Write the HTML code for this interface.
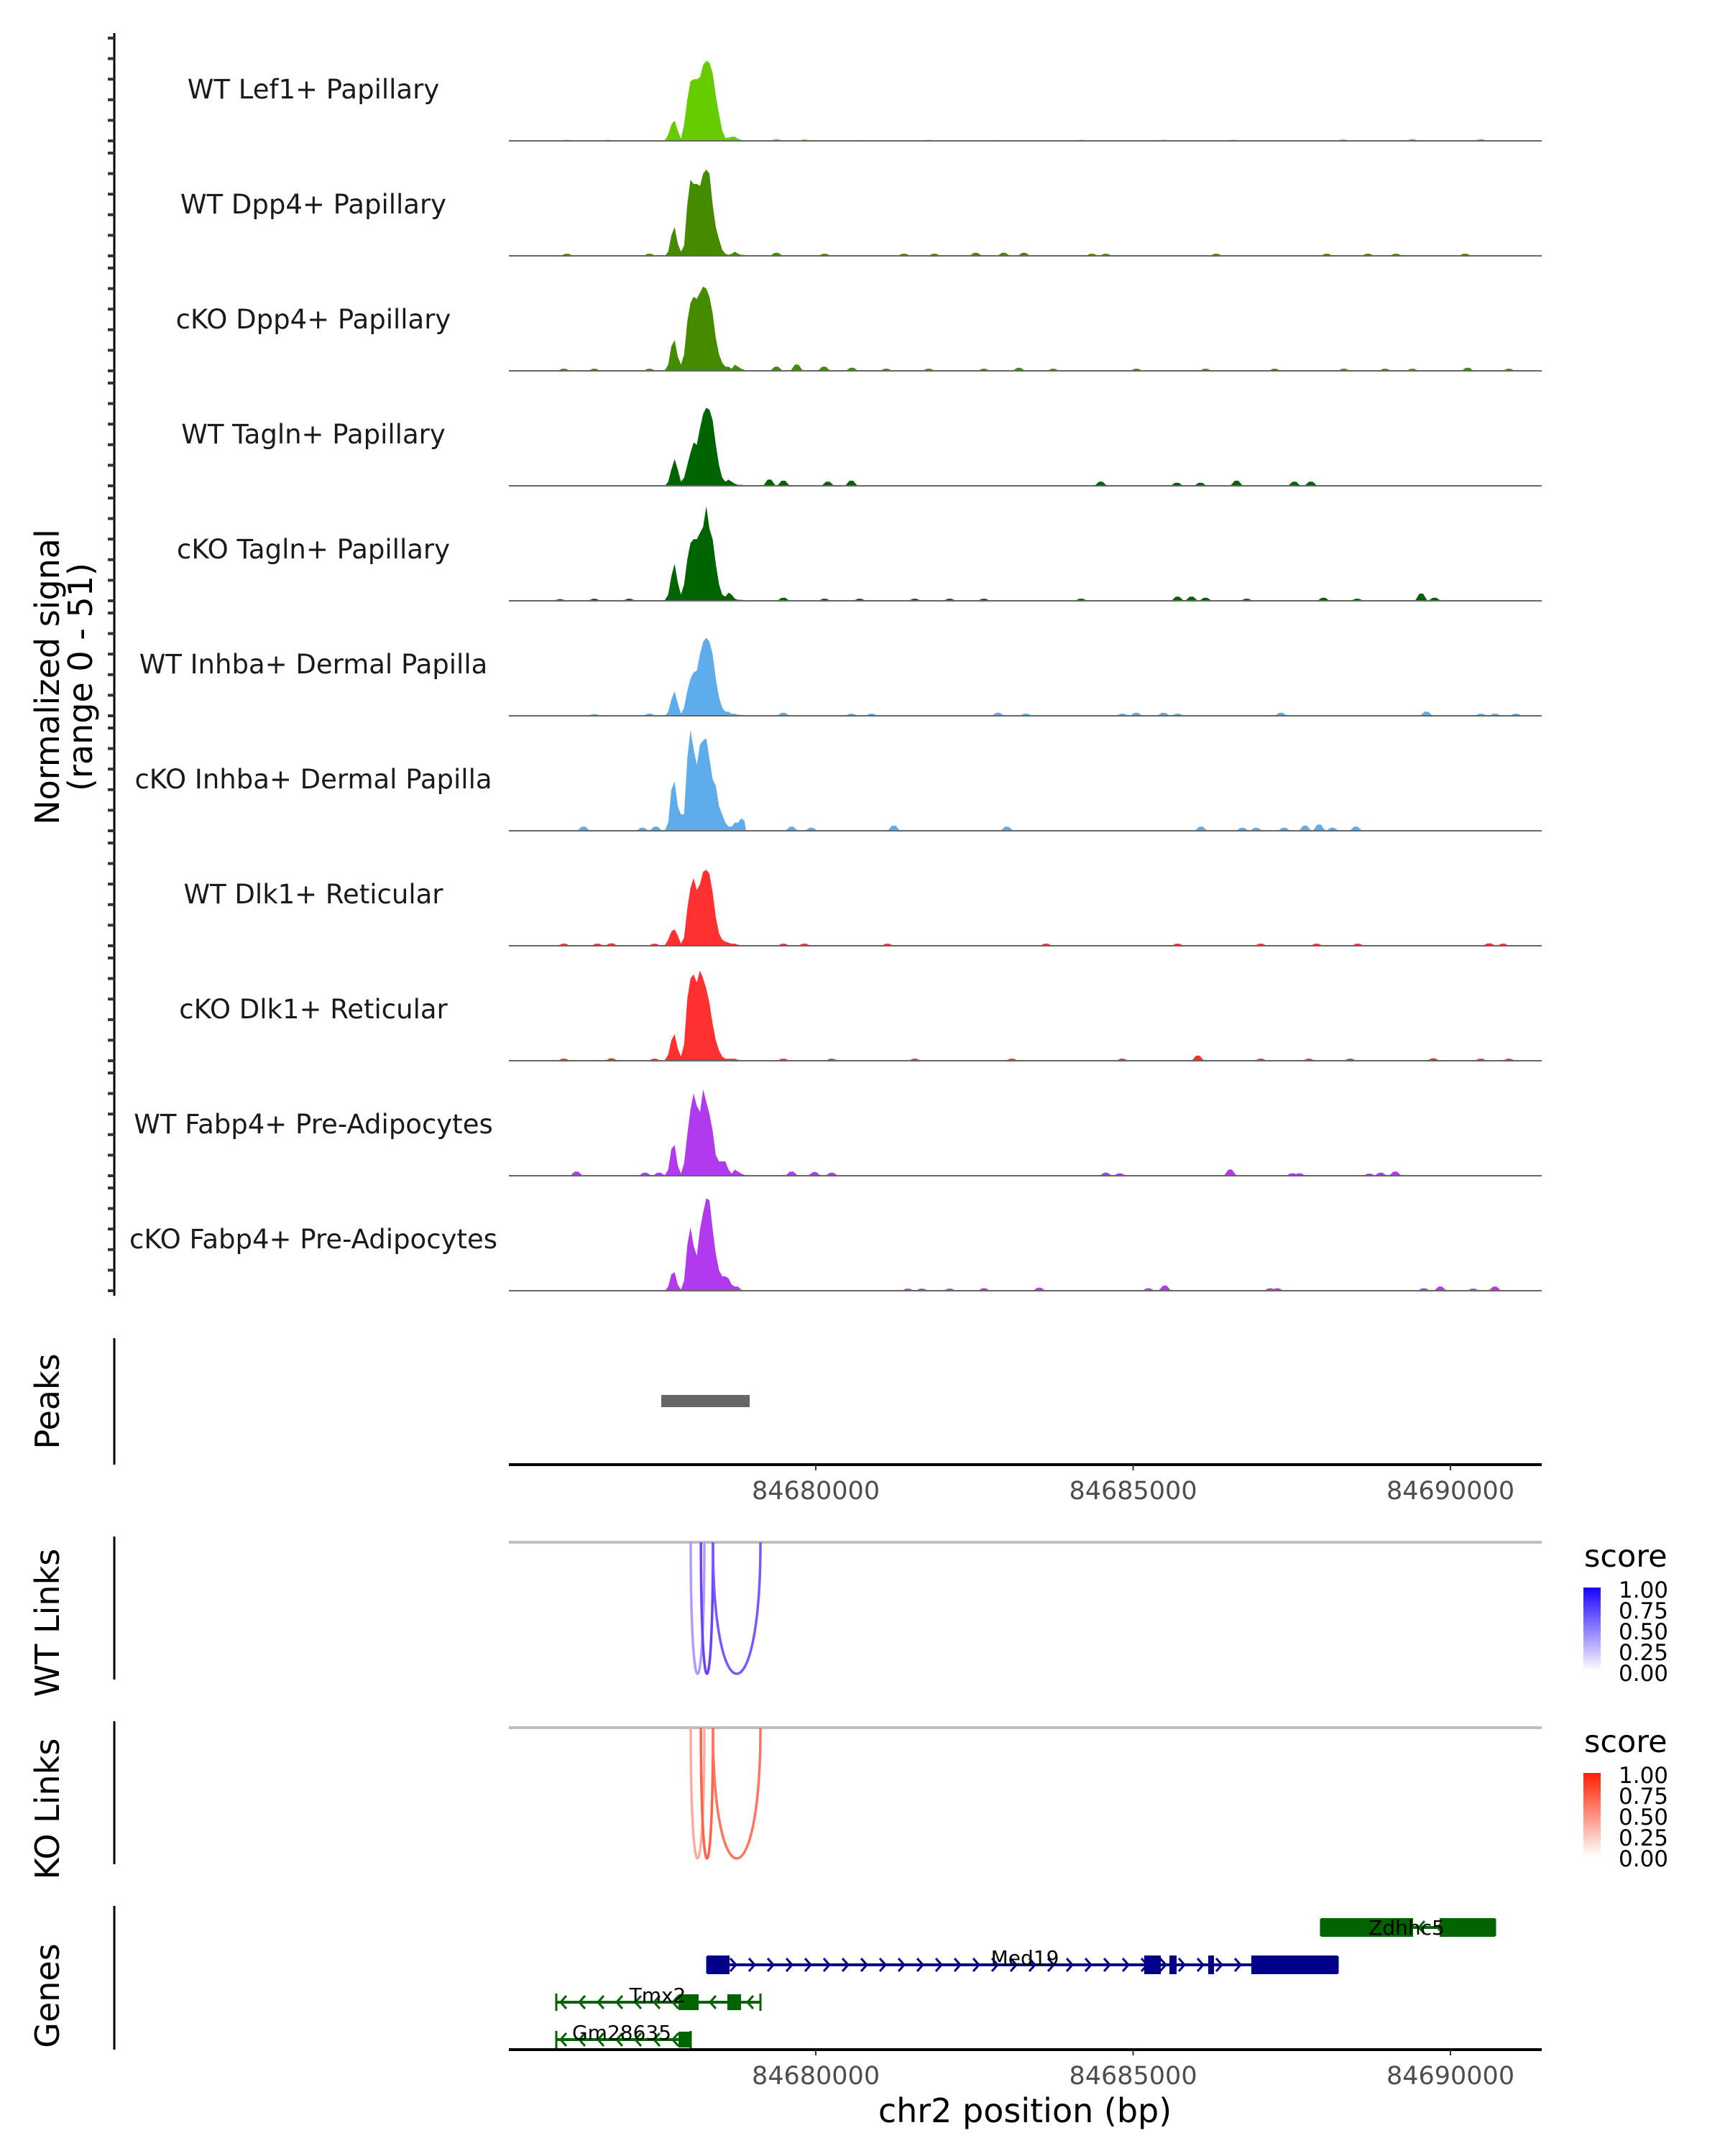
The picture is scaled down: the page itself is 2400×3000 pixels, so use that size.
<!DOCTYPE html>
<html><head><meta charset="utf-8"><style>
html,body{margin:0;padding:0;background:#fff;}
svg{display:block;font-family:"DejaVu Sans","Liberation Sans",sans-serif;}
</style></head><body>
<svg id="chart" width="2400" height="3000" viewBox="0 0 2400 3000" xmlns="http://www.w3.org/2000/svg">
<defs>
<linearGradient id="gBlue" x1="0" y1="1" x2="0" y2="0"><stop offset="0" stop-color="#ffffff"/><stop offset="1" stop-color="#1a00ff"/></linearGradient>
<linearGradient id="gRed" x1="0" y1="1" x2="0" y2="0"><stop offset="0" stop-color="#ffffff"/><stop offset="1" stop-color="#ff2000"/></linearGradient>
</defs>
<g id="tracks"></g>
<g id="lower"></g>
</svg>
<script>
// ---- data ----
const trackNames = ["WT Lef1+ Papillary","WT Dpp4+ Papillary","cKO Dpp4+ Papillary","WT Tagln+ Papillary","cKO Tagln+ Papillary","WT Inhba+ Dermal Papilla","cKO Inhba+ Dermal Papilla","WT Dlk1+ Reticular","cKO Dlk1+ Reticular","WT Fabp4+ Pre-Adipocytes","cKO Fabp4+ Pre-Adipocytes"];
const trackColors = ["#66CC00","#458B00","#458B00","#006400","#006400","#5EACEB","#5EACEB","#FF3030","#FF3030","#B23AEE","#B23AEE"];
const binStart = 84677600;
const binSize = 50;
const mainProfiles = [
[0.5,3,8,10,5,1,8,20,29,30,30,31,37,39,38,33,22,13,5,1.5,1.5,2,2,1,0.5,0.3],
[0,2,10,14,6,2,5,25,37,35,35,34,40,42,40,25,14,8,3,1,0.5,1,2,1,0.5,0.5],
[0.5,3,12,15,7,3,8,24,33,36,35,38,41,40,36,28,16,8,4,2,2,1,3,2,1,0.5],
[0,2,8,13,8,2,4,10,16,21,20,28,35,38,37,32,20,10,4,2,3,2,1,0.5,0.5,0.3],
[0.5,3,12,18,9,3,8,20,28,30,30,33,36,46,35,30,18,8,3,2,4,3,1,0.5,0.5,0.3],
[0,2,8,12,6,1,4,12,18,21,22,30,36,38,36,30,18,9,4,2,2,1,1,0.5,0.5,0.3],
[0.5,4,20,24,12,8,8,35,49,40,32,42,44,45,35,25,22,12,8,4,2,2,4,4,6,5],
[0.5,3,7,8,5,1,4,18,28,33,27,30,36,37,35,26,14,6,3,2,1.5,1,1,0.5,0.3,0.3],
[0.5,3,10,13,6,2,8,30,40,42,38,44,40,35,28,18,10,5,2,1,1,1,1,0.5,0.3,0.3],
[0.5,3,13,15,5,1,6,20,32,40,34,31,42,36,30,22,10,7,7,7,3,1,3,2,1,0.5],
[0,2,8,9,3,0.5,5,22,31,22,17,30,38,45,44,30,18,10,7,7,6,3,2,2,0.5,0]
];
// small peaks: [bp, height]
const bumps = [
[[84676080,0.5],[84676730,0.5],[84679380,0.8],[84679820,0.6],[84680690,0.4],[84681780,0.5],[84682870,0.4],[84684180,0.5],[84685480,0.5],[84686570,0.5],[84688310,0.6],[84689400,0.8],[84690480,0.8]],
[[84676080,1],[84677380,1],[84679380,1.5],[84680140,1],[84681390,1],[84681870,1],[84682520,1.5],[84682960,1.5],[84683280,1.5],[84684350,1],[84684570,1],[84686310,1],[84688050,1],[84688700,1],[84689140,1],[84690230,1]],
[[84676030,1],[84676510,1],[84677380,1],[84679380,2],[84679700,3],[84680130,2],[84680570,1.5],[84681110,1],[84681780,1],[84682650,1],[84683200,1.5],[84683740,1],[84685050,1],[84686140,1],[84687230,1],[84688320,1],[84688970,1],[84689400,1],[84690270,1.5],[84690920,1]],
[[84679270,3],[84679490,2.5],[84680190,2],[84680560,2.5],[84684490,2],[84685690,1.5],[84686060,1.5],[84686630,2.5],[84687540,2],[84687800,2]],
[[84675970,0.8],[84676510,1],[84677060,1],[84679490,1.5],[84680140,1],[84680690,1],[84681560,1],[84682110,1],[84682650,1],[84684180,1],[84685700,2],[84685920,2],[84686140,1.5],[84686790,1],[84688000,1.5],[84688530,1],[84689540,3.5],[84689750,1.5]],
[[84676510,0.8],[84677380,1],[84679490,1.5],[84680560,1],[84680880,1],[84682870,1.5],[84683310,1],[84684830,1],[84685050,1.5],[84685480,1.5],[84685700,1],[84687330,1.5],[84689620,2],[84690480,1],[84690700,1],[84691030,1]],
[[84676340,2],[84677270,1.5],[84677480,2],[84679620,2],[84679930,1.5],[84681230,2.5],[84683010,2],[84686070,2],[84686720,1.5],[84686940,1.5],[84687380,1.5],[84687710,2.5],[84687930,3],[84688140,1.5],[84688510,2]],
[[84676030,1],[84676560,1],[84676780,1.2],[84677460,1],[84679490,1],[84679820,1],[84681130,1],[84683630,1],[84685700,1],[84687010,1],[84687890,1],[84688540,1],[84690610,1.2],[84690830,1]],
[[84676030,1],[84676780,1.2],[84677460,1],[84679490,1],[84680250,1],[84681560,1],[84683090,1],[84684830,1],[84686020,2.5],[84687010,1],[84687770,1],[84688420,1],[84689730,1.2],[84690480,1],[84690920,1]],
[[84676230,2],[84677310,1.5],[84677530,1.5],[84679620,2],[84679980,1.8],[84680250,1.5],[84684570,1.5],[84684790,1.2],[84686530,3],[84687510,1.2],[84687620,1.2],[84688720,1],[84688900,1.5],[84689130,2]],
[[84681450,1],[84681670,1],[84682110,1],[84682650,1.2],[84683520,1.5],[84685240,1.2],[84685500,2.5],[84687160,1.2],[84687270,1.2],[84689580,1.2],[84689840,2],[84690360,1],[84690700,2]]
];
const yMax = 51;
const yTicks = [0,10,20,30,40,50];
const xTicks = [84680000,84685000,84690000];
const peaks = [[84677565,84678958]];
const wtLinks = [[84678029,84678244,0.45],[84678190,84678380,0.85],[84678380,84679128,0.75]];
const koLinks = [[84678029,84678244,0.45],[84678190,84678380,0.85],[84678380,84679128,0.75]];
const genes = [
 {name:"Zdhhc5",strand:-1,start:84687961,end:84690702,exons:[[84687961,84689411],[84689830,84690702]],y:2682,h:26,color:"#006400",lx:1957,ly:2682},
 {name:"Med19",strand:1,start:84678290,end:84688222,exons:[[84678290,84678641],[84685175,84685436],[84685572,84685685],[84686183,84686274],[84686862,84688222]],y:2734,h:26,color:"#00008B",lx:1426,ly:2724},
 {name:"Tmx2",strand:-1,start:84675911,end:84679128,exons:[[84677837,84678154],[84678607,84678822]],y:2786,h:22,color:"#006400",lx:915,ly:2776},
 {name:"Gm28635",strand:-1,start:84675911,end:84678029,exons:[[84677837,84678029]],y:2838,h:22,color:"#006400",lx:865,ly:2828}
];
// ---- scales ----
const X0=708, X1=2145, BP0=84675164, BP1=84691438;
function xs(bp){return X0+(bp-BP0)/(BP1-BP0)*(X1-X0);}
const pxPerUnit=2.86;
function baseY(i){return 196+160*i;}
function ys(i,v){return baseY(i)-v*pxPerUnit;}
const NS="http://www.w3.org/2000/svg";
function mk(tag,attrs,parent){const e=document.createElementNS(NS,tag);for(const k in attrs)e.setAttribute(k,attrs[k]);parent.appendChild(e);return e;}
const T=document.getElementById('tracks');
const L=document.getElementById('lower');

let ax=mk('line',{x1:159,y1:46,x2:159,y2:1803,stroke:'#000','stroke-width':3},T);


let yt=mk('text',{x:0,y:0,'font-size':46,'text-anchor':'middle',fill:'#000',transform:'translate(82,942) rotate(-90)'},T);
yt.textContent='Normalized signal';


let yt2=mk('text',{x:0,y:0,'font-size':46,'text-anchor':'middle',fill:'#000',transform:'translate(128,942) rotate(-90)'},T);
yt2.textContent='(range 0 - 51)';



trackNames.forEach((name,i)=>{
  const g=mk('g',{},T);
  
  
  yTicks.forEach(v=>{
    const t=mk('line',{x1:150,x2:159,y1:ys(i,v),y2:ys(i,v),stroke:'#333','stroke-width':4},g);
    
    
  });
  const lab=mk('text',{x:436,y:baseY(i)-59,'font-size':37,'text-anchor':'middle',fill:'#1a1a1a'},g);
  lab.textContent=name;
  
  
  const prof=mainProfiles[i];
  let pts=[[xs(binStart),baseY(i)]];
  prof.forEach((v,k)=>{pts.push([xs(binStart+k*binSize+binSize/2),ys(i,v)]);});
  pts.push([xs(binStart+prof.length*binSize),baseY(i)]);
  const p=mk('polygon',{points:pts.map(q=>q[0].toFixed(1)+','+q[1].toFixed(1)).join(' '),fill:trackColors[i]},g);
  
  
  bumps[i].forEach(b=>{
    const bx=xs(b[0]);const w=xs(b[0]+70)-bx;
    const bp=mk('polygon',{points:`${bx-w*1.4},${baseY(i)} ${bx-w*0.4},${ys(i,b[1])} ${bx+w*0.4},${ys(i,b[1])} ${bx+w*1.4},${baseY(i)}`,fill:trackColors[i]},g);
    
    
  });
  const bl=mk('line',{x1:X0,x2:X1,y1:baseY(i),y2:baseY(i),stroke:'#666','stroke-width':2},g);
  
  
});

function sideLabel(txt,cy,y1,y2,name){
  const t=mk('text',{x:0,y:0,'font-size':46,'text-anchor':'middle',fill:'#000',transform:`translate(82,${cy}) rotate(-90)`},L);
  t.textContent=txt;
  
  
  const l=mk('line',{x1:159,x2:159,y1:y1,y2:y2,stroke:'#000','stroke-width':3},L);
  
  
}
function xAxis(y,name){
  const l=mk('line',{x1:X0,x2:X1,y1:y,y2:y,stroke:'#000','stroke-width':4},L);
  
  
  xTicks.forEach(v=>{
    const tk=mk('line',{x1:xs(v),x2:xs(v),y1:y,y2:y+8,stroke:'#333','stroke-width':2},L);
    
    
    const t=mk('text',{x:xs(v),y:y+48,'font-size':35,'text-anchor':'middle',fill:'#4d4d4d'},L);
    t.textContent=String(v);
    
    
  });
}
sideLabel('Peaks',1950,1862,2038,'peaks');
peaks.forEach(pk=>{
  const r=mk('rect',{x:xs(pk[0]),y:1941,width:xs(pk[1])-xs(pk[0]),height:17,fill:'#666'},L);
  
  
});
xAxis(2038,'peaks-x-axis');

function links(arr,top,bottom,base,name,grad,cy,y1,y2,legY){
  sideLabel(name==='wt-links'?'WT Links':'KO Links',cy,y1,y2,name);
  const gl=mk('line',{x1:X0,x2:X1,y1:top,y2:top,stroke:'#bebebe','stroke-width':4},L);
  
  
  const ctrl=top+(bottom-top)/0.75;
  arr.forEach(a=>{
    const x1=xs(a[0]),x2=xs(a[1]);
    const col=base(a[2]);
    const p=mk('path',{d:`M${x1},${top} C${x1},${ctrl} ${x2},${ctrl} ${x2},${top}`,fill:'none',stroke:col,'stroke-width':3.5},L);
    
    
  });
  const st=mk('text',{x:2204,y:legY,'font-size':43,fill:'#000'},L);
  st.textContent='score';
  
  
  const cb=mk('rect',{x:2203,y:legY+29,width:24,height:116,fill:`url(#${grad})`},L);
  
  
  ['1.00','0.75','0.50','0.25','0.00'].forEach((t,k)=>{
    const tx=mk('text',{x:2252,y:legY+43+k*29,'font-size':31,fill:'#000'},L);
    tx.textContent=t;
    
    
  });
}
function blue(s){const r=Math.round(255-s*(255-80)),g=Math.round(255-s*(255-30));return `rgb(${r},${g},255)`;}
function red(s){const g=Math.round(255-s*(255-70)),b=Math.round(255-s*(255-40));return `rgb(255,${g},${b})`;}
links(wtLinks,2146,2329,blue,'wt-links','gBlue',2258,2138,2337,2180);
links(koLinks,2404,2586,red,'ko-links','gRed',2517,2395,2594,2438);

sideLabel('Genes',2777,2652,2852,'genes');
genes.forEach(gn=>{
  const g=mk('g',{},L);
  
  
  const xa=xs(gn.start),xb=xs(gn.end);
  mk('line',{x1:xa,x2:xb,y1:gn.y,y2:gn.y,stroke:gn.color,'stroke-width':4},g);
  for(let x=xa+10;x<xb-6;x+=26){
    const d=gn.strand>0?`M${x-4},${gn.y-9} L${x+4},${gn.y} L${x-4},${gn.y+9}`:`M${x+4},${gn.y-9} L${x-4},${gn.y} L${x+4},${gn.y+9}`;
    const c=mk('path',{d:d,fill:'none',stroke:gn.color,'stroke-width':3},g);
    
    
  }
  [xa,xb].forEach(x=>{mk('line',{x1:x,x2:x,y1:gn.y-12,y2:gn.y+12,stroke:gn.color,'stroke-width':3},g);});
  gn.exons.forEach(e=>{
    const r=mk('rect',{x:xs(e[0]),y:gn.y-gn.h/2,width:Math.max(4,xs(e[1])-xs(e[0])),height:gn.h,fill:gn.color},g);
    
    
  });
  const t=mk('text',{x:gn.lx,y:gn.ly+10,'font-size':28,'text-anchor':'middle',fill:'#000'},g);
  t.textContent=gn.name;
  
  
});
xAxis(2852,'x-axis');
const xt=mk('text',{x:1426,y:2953,'font-size':46,'text-anchor':'middle',fill:'#000'},L);
xt.textContent='chr2 position (bp)';


</script>
</body></html>
